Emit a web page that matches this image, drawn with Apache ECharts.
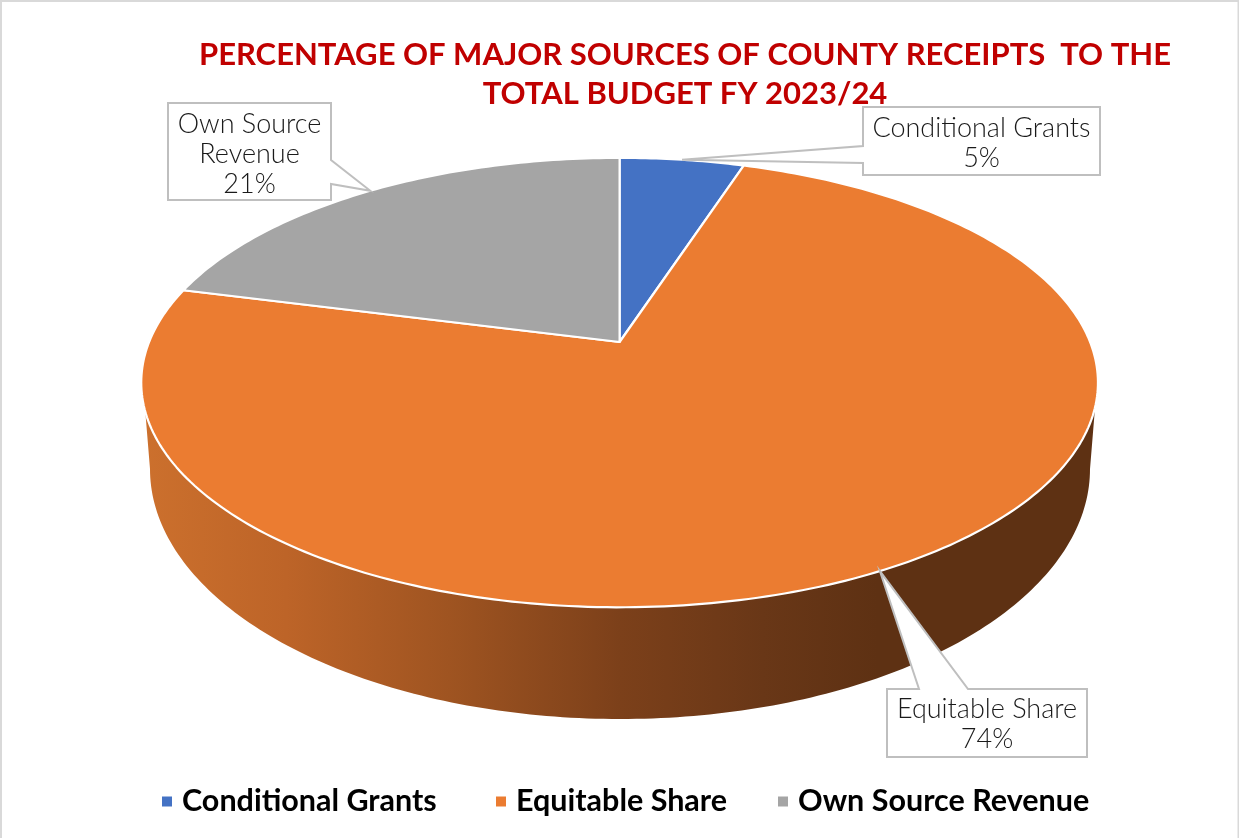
<!DOCTYPE html>
<html>
<head>
<meta charset="utf-8">
<style>
  html, body { margin: 0; padding: 0; background: #fff; }
  #chart { width: 1239px; height: 838px; }
</style>
<script src="https://cdn.jsdelivr.net/npm/echarts@6/dist/echarts.min.js"></script>
</head>
<body>
<div id="chart"></div>
<script>
const titleText = 'PERCENTAGE OF MAJOR SOURCES OF COUNTY RECEIPTS  TO THE\nTOTAL BUDGET FY 2023/24';
const categories = ['Conditional Grants', 'Equitable Share', 'Own Source Revenue'];
const shares = [5, 74, 21];
const sliceColors = ['#4472C4', '#EB7C31', '#A5A5A5'];
const calloutLines = [['Conditional Grants', '5%'], ['Equitable Share', '74%'], ['Own Source', 'Revenue', '21%']];
const legendLefts = [162, 496, 778];

const LABEL_FONT = 'Lato, "Open Sans", sans-serif';

// Tilted disc: a unit circle seen in perspective, apex projected above the ellipse centre.
const disc = { cx: 619.6, cy: 342, a: 470.5, b: 217.4, k: 0.1805 };
// Wall below the disc: its lower rim, and the straight edges that climb to the top rim.
const wall = { cx: 620, cy: 469, rx: 470, ry: 250, topY: 408, topHalf: 475, bandY: 382, bandHalf: 477 };
// Label boxes, the two points where the pointer meets the box, and a small nudge of its tip along the rim.
const boxes = [
  { x: 863, y: 107, w: 237, h: 68, p0: [863, 146], p1: [863, 163], ty: 128, tipShift: 0 },
  { x: 887, y: 689, w: 200, h: 68, p0: [968, 689], p1: [919, 689], ty: 709, tipShift: 1.1 },
  { x: 168, y: 103, w: 163, h: 97, p0: [331, 160], p1: [331, 184], ty: 124, tipShift: 0.5 }
];
const CALLOUT_LINE_HEIGHT = 30;

const total = shares.reduce((s, v) => s + v, 0);

function project(theta) {
  const u = Math.sin(theta), v = Math.cos(theta);
  const d = 1 + disc.k * v;
  return [disc.cx + disc.a * u / d, disc.cy - disc.b * v / d];
}

function sliceRange(i) {
  const before = shares.slice(0, i).reduce((s, v) => s + v, 0);
  return [before / total * 2 * Math.PI, (before + shares[i]) / total * 2 * Math.PI];
}

function topFace(i) {
  const [a0, a1] = sliceRange(i);
  const pts = [[disc.cx, disc.cy]];
  const steps = Math.max(24, Math.round((a1 - a0) * 60));
  for (let s = 0; s <= steps; s++) pts.push(project(a0 + (a1 - a0) * s / steps));
  return {
    type: 'polygon',
    shape: { points: pts },
    style: { fill: sliceColors[i], stroke: '#ffffff', lineWidth: 2.2, lineJoin: 'round' },
    z2: 2
  };
}

// Only the slice that covers the front of the disc shows a wall.
function wallShape() {
  const pts = [[wall.cx - wall.bandHalf, wall.bandY], [wall.cx - wall.topHalf, wall.topY]];
  for (let s = 0; s <= 180; s++) {
    const t = Math.PI - s / 180 * Math.PI;
    pts.push([wall.cx + wall.rx * Math.cos(t), wall.cy + wall.ry * Math.sin(t)]);
  }
  pts.push([wall.cx + wall.topHalf, wall.topY], [wall.cx + wall.bandHalf, wall.bandY]);
  return {
    type: 'polygon',
    shape: { points: pts },
    style: {
      fill: new echarts.graphic.LinearGradient(0, 0, 1, 0, [
        { offset: 0, color: '#CC702D' },
        { offset: 0.15, color: '#BD6428' },
        { offset: 0.32, color: '#9F5421' },
        { offset: 0.5, color: '#7C401A' },
        { offset: 0.65, color: '#693717' },
        { offset: 0.77, color: '#5E3113' },
        { offset: 1, color: '#5E3113' }
      ])
    },
    z2: 1
  };
}

function callout(i) {
  const b = boxes[i];
  const [a0, a1] = sliceRange(i);
  const tip = project((a0 + a1) / 2 + b.tipShift * Math.PI / 180);
  const tl = [b.x, b.y], tr = [b.x + b.w, b.y], br = [b.x + b.w, b.y + b.h], bl = [b.x, b.y + b.h];
  // Outline runs clockwise and detours through the pointer where it meets the box.
  let pts;
  if (i === 0) pts = [tl, tr, br, bl, b.p1, tip, b.p0];
  else if (i === 1) pts = [tl, b.p1, tip, b.p0, tr, br, bl];
  else pts = [tl, tr, b.p0, tip, b.p1, br, bl];
  const children = [{
    type: 'polygon',
    shape: { points: pts },
    style: { fill: '#ffffff', stroke: '#BFBFBF', lineWidth: 2, lineJoin: 'miter' },
    z2: 5
  }];
  calloutLines[i].forEach((line, n) => {
    children.push({
      type: 'text',
      x: b.x + b.w / 2,
      y: b.ty + n * CALLOUT_LINE_HEIGHT,
      style: {
        text: line, fill: '#1a1a1a', font: '300 27px ' + LABEL_FONT,
        align: 'center', verticalAlign: 'middle'
      },
      z2: 6
    });
  });
  return { type: 'group', children };
}

const series = categories.map((name, i) => ({
  type: 'custom',
  name,
  coordinateSystem: 'none',
  itemStyle: { color: sliceColors[i] },
  silent: true,
  data: [shares[i]],
  renderItem: () => {
    const [a0, a1] = sliceRange(i);
    const children = [];
    if (a0 < Math.PI && a1 > Math.PI) children.push(wallShape());
    children.push(topFace(i));
    return { type: 'group', children };
  }
}));

// Label boxes sit above every slice, so they get their own series outside the legend.
series.push({
  type: 'custom',
  name: 'callouts',
  coordinateSystem: 'none',
  silent: true,
  z: 5,
  data: shares.map((v, i) => i),
  renderItem: (params) => callout(params.dataIndex)
});

const chart = echarts.init(document.getElementById('chart'), null, { renderer: 'canvas' });
chart.setOption({
  animation: false,
  backgroundColor: '#ffffff',
  title: {
    text: titleText,
    left: 680,
    top: 30,
    textAlign: 'center',
    textStyle: {
      color: '#C00000',
      fontFamily: LABEL_FONT,
      fontWeight: 'bold',
      fontSize: 31,
      lineHeight: 39
    }
  },
  legend: categories.map((name, i) => ({
    data: [name],
    left: legendLefts[i],
    top: 786,
    padding: 0,
    icon: 'rect',
    itemWidth: 10,
    itemHeight: 10,
    selectedMode: false,
    textStyle: {
      color: '#000000',
      fontFamily: LABEL_FONT,
      fontWeight: 'bold',
      fontSize: 30.5,
      padding: [0, 0, 0, 5]
    }
  })),
  series,
  graphic: [{
    type: 'polyline',
    silent: true,
    shape: { points: [[1, 838], [1, 1], [1238.5, 1], [1238.5, 838]] },
    style: { fill: 'none', stroke: '#D9D9D9', lineWidth: 2 }
  }]
});
</script>
</body>
</html>
